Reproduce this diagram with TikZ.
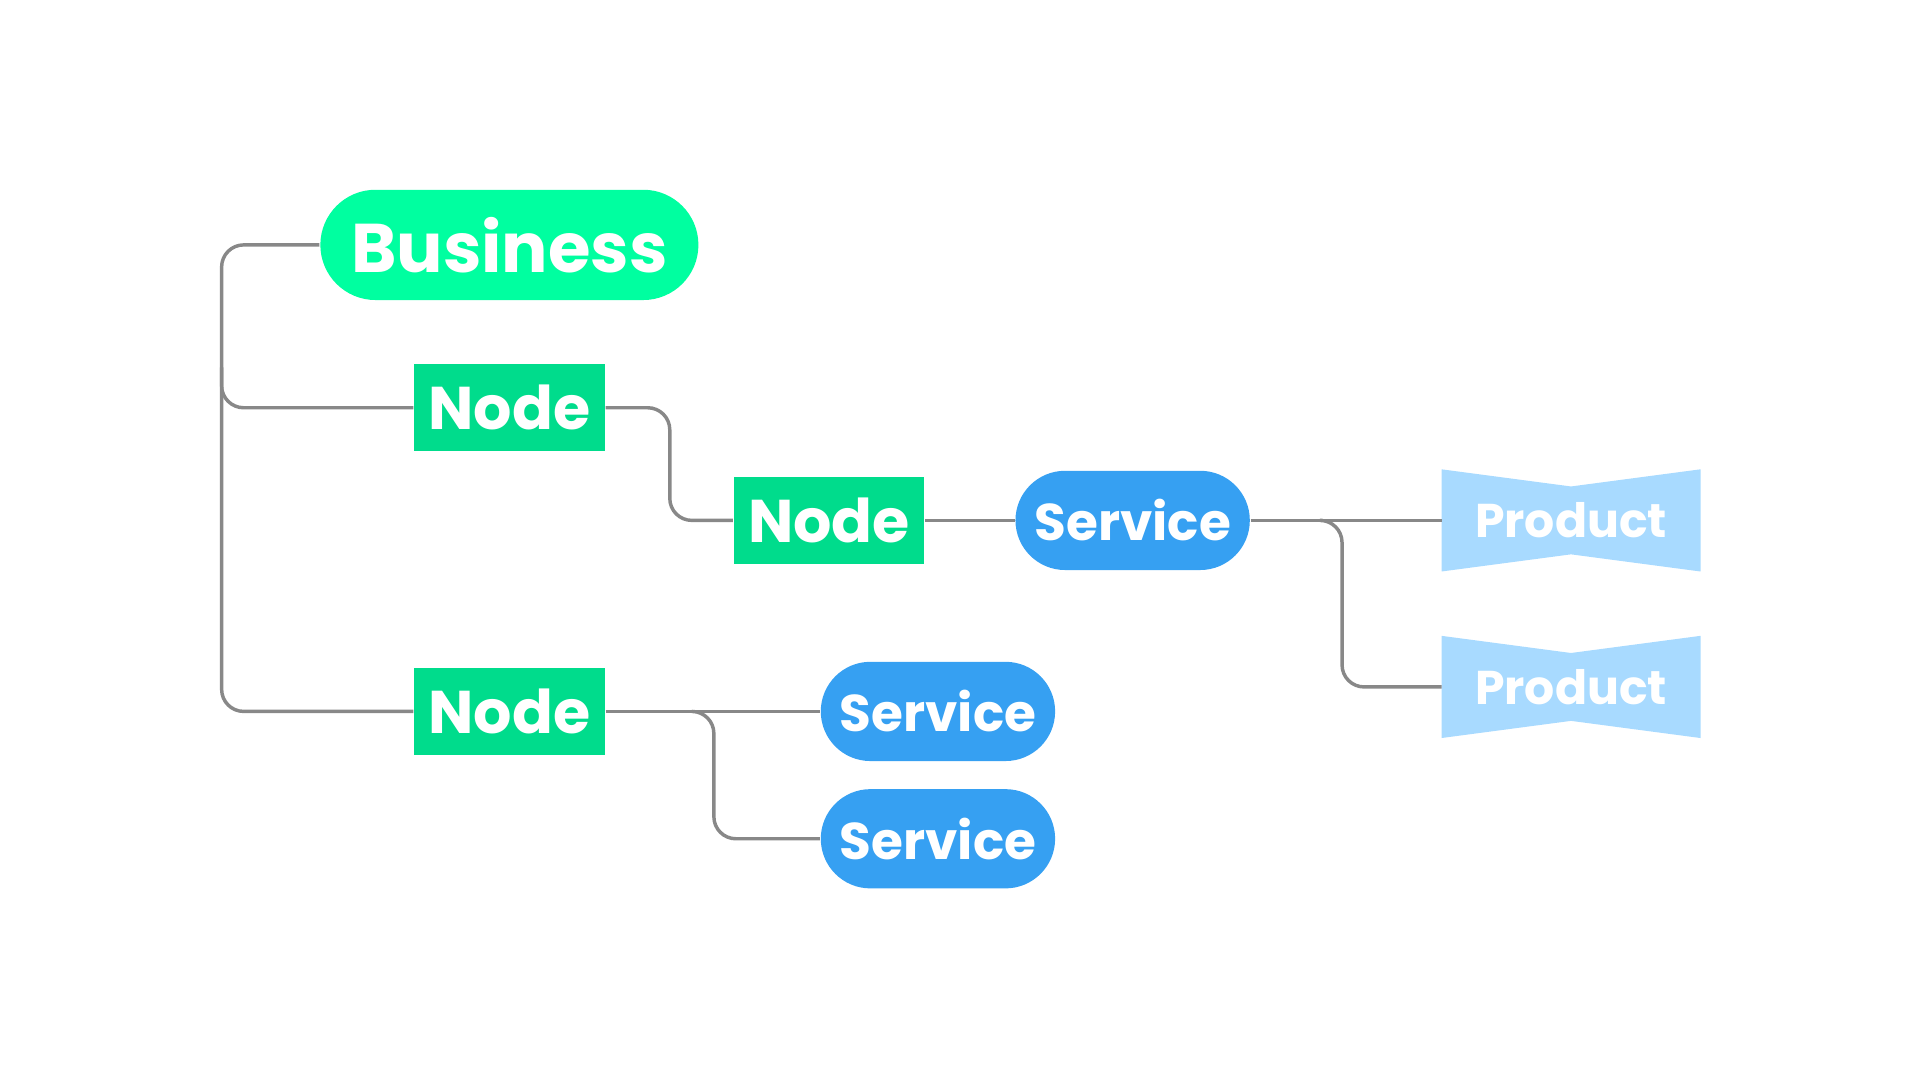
\documentclass[tikz,border=0pt]{standalone}
\usepackage{fontspec}
\setmainfont{Poppins}
\usetikzlibrary{calc, backgrounds, shapes.misc}

\definecolor{bizgreen}{RGB}{0,255,160}
\definecolor{nodegreen}{RGB}{0,220,140}
\definecolor{serviceblue}{RGB}{54,160,242}
\definecolor{productblue}{RGB}{168,218,255}
\definecolor{linegray}{RGB}{136,136,136}

\begin{document}
\begin{tikzpicture}[x=0.01cm,y=-0.01cm,
  biz node/.style={rounded rectangle,fill=bizgreen,text=white,minimum width=3.32cm,
    minimum height=0.9cm,font=\bfseries\fontsize{16}{18}\selectfont},
  main node/.style={rectangle,fill=nodegreen,text=white,minimum width=1.45cm,
    minimum height=0.71cm,font=\bfseries\fontsize{14}{16}\selectfont},
  service node/.style={rounded rectangle,fill=serviceblue,text=white,minimum width=1.77cm,
    minimum height=0.81cm,font=\bfseries\fontsize{12}{14}\selectfont},
  product node/.style={rectangle,text=white,minimum width=2.1cm,minimum height=0.82cm,
    font=\fontsize{11}{13}\selectfont\bfseries},
  link/.style={draw=linegray,line width=0.8pt,rounded corners=0.18cm}]

  \useasboundingbox (0,0) rectangle (1568,882);

  \node[biz node] (business) at (416,200) {Business};
  \node[main node] (n1) at (416,333) {Node};
  \node[main node] (n2) at (677,425) {Node};
  \node[main node] (n3) at (416,581) {Node};
  \node[service node] (s1) at (925,425) {Service};
  \node[service node] (s2) at (766,581) {Service};
  \node[service node] (s3) at (766,685) {Service};
  \node[product node] (p1) at (1283,425) {Product};
  \node[product node] (p2) at (1283,561) {Product};

  \begin{scope}[on background layer]
    \foreach \p in {p1,p2}
      \fill[productblue] (\p.north west) -- ($(\p.north)+(0,-0.14cm)$) -- (\p.north east)
        -- (\p.south east) -- ($(\p.south)+(0,0.14cm)$) -- (\p.south west) -- cycle;

    % tree links
    \path[link] (business.west) -| (181,581) -- (n3.west);
    \path[link] (181,300) |- (n1.west);
    \path[link] (n1.east) -| (547,425) -- (n2.west);
    \path[link] (n2.east) -- (s1.west);
    \path[link] (s1.east) -- (p1.west);
    \path[link] (1080,425) -| (1096,561) -- (p2.west);
    \path[link] (n3.east) -- (s2.west);
    \path[link] (565,581) -| (583,685) -- (s3.west);
  \end{scope}
\end{tikzpicture}
\end{document}
